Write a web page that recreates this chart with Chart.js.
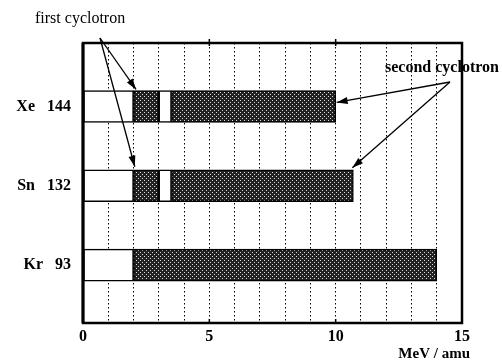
<!DOCTYPE html>
<html>
<head>
<meta charset="utf-8">
<script src="https://cdn.jsdelivr.net/npm/chart.js@4"></script>
<style>
  html, body { margin: 0; padding: 0; background: #fff; }
  #wrap { width: 502px; height: 364px; }
</style>
</head>
<body>
<div id="wrap"><canvas id="grafico" width="502" height="364"></canvas></div>
<script>
// dados (MeV / amu)
const ions = ['Xe   144', 'Sn   132', 'Kr   93'];
const posicoes = [1, 2, 3];
const injecao = [[0, 2], [0, 2], [0, 2]];
const primeiroCiclo = [[2, 3], [2, 3], null];
const intervalo = [[3, 3.5], [3, 3.5], null];
const segundoCiclo = [[3.5, 10], [3.5, 10.7], [2, 14]];
const xTicks = [0, 5, 10, 15];
const tituloX = 'MeV / amu';

// textura pontilhada das barras escuras
function criarTextura() {
    const c = document.createElement('canvas');
    c.width = 4; c.height = 4;
    const g = c.getContext('2d');
    g.fillStyle = '#222';
    g.fillRect(0, 0, 4, 4);
    g.fillStyle = '#ddd';
    g.fillRect(0, 0, 1, 1);
    g.fillRect(2, 2, 1, 1);
    return document.getElementById('grafico').getContext('2d').createPattern(c, 'repeat');
}
const textura = criarTextura();

function serie(valores) {
    return valores.map((v, i) => v ? { x: v, y: posicoes[i] } : null).filter(v => v);
}

function seta(ctx, x1, y1, x2, y2) {
    ctx.beginPath();
    ctx.moveTo(x1, y1);
    ctx.lineTo(x2, y2);
    ctx.stroke();
    const ang = Math.atan2(y2 - y1, x2 - x1);
    const len = 11, w = 3.5;
    ctx.beginPath();
    ctx.moveTo(x2, y2);
    ctx.lineTo(x2 - len * Math.cos(ang) + w * Math.sin(ang), y2 - len * Math.sin(ang) - w * Math.cos(ang));
    ctx.lineTo(x2 - len * Math.cos(ang) - w * Math.sin(ang), y2 - len * Math.sin(ang) + w * Math.cos(ang));
    ctx.closePath();
    ctx.fill();
}

// moldura e anotacoes
const anotacoes = {
    id: 'anotacoes',
    afterDraw(chart) {
        const ctx = chart.ctx;
        const a = chart.chartArea;
        const xs = chart.scales.x, ys = chart.scales.y;
        ctx.save();
        ctx.strokeStyle = '#000';
        ctx.lineWidth = 2.5;
        ctx.strokeRect(a.left, a.top, a.right - a.left, a.bottom - a.top);
        ctx.lineWidth = 3;
        ctx.beginPath();
        ctx.moveTo(a.left, a.top);
        ctx.lineTo(a.left, a.bottom);
        ctx.stroke();

        // marcas maiores em 5 e 10
        ctx.lineWidth = 1.5;
        [5, 10].forEach(v => {
            const px = xs.getPixelForValue(v);
            ctx.beginPath();
            ctx.moveTo(px, a.top - 4);
            ctx.lineTo(px, a.top + 3);
            ctx.moveTo(px, a.bottom - 4);
            ctx.lineTo(px, a.bottom);
            ctx.stroke();
        });

        ctx.fillStyle = '#000';
        ctx.lineWidth = 1.3;
        ctx.textBaseline = 'middle';
        ctx.textAlign = 'left';
        ctx.font = '16px "Liberation Serif"';
        ctx.fillText('first cyclotron', 35, 19);
        seta(ctx, 100, 38, xs.getPixelForValue(2.1), ys.getPixelForValue(1) - 17);
        seta(ctx, 100, 38, xs.getPixelForValue(2.05), ys.getPixelForValue(2) - 19);

        ctx.font = 'bold 16px "Liberation Serif"';
        ctx.fillText('second cyclotron', 385, 68);
        seta(ctx, 450, 82, xs.getPixelForValue(10) + 1, ys.getPixelForValue(1) - 4);
        seta(ctx, 450, 82, xs.getPixelForValue(10.7) - 1, ys.getPixelForValue(2) - 18);

        // titulo do eixo x
        ctx.font = 'bold 15px "Liberation Serif"';
        ctx.textAlign = 'right';
        ctx.fillText(tituloX, a.right + 8, 354);
        ctx.restore();
    }
};

const barra = {
    borderColor: '#000',
    borderWidth: 1.5,
    borderSkipped: false,
    barThickness: 32,
    grouped: false
};

new Chart(document.getElementById('grafico'), {
    type: 'bar',
    data: {
        datasets: [
            Object.assign({ label: 'injection', data: serie(injecao), backgroundColor: '#fff' }, barra),
            Object.assign({ label: 'first cyclotron', data: serie(primeiroCiclo), backgroundColor: textura }, barra),
            Object.assign({ label: 'gap', data: serie(intervalo), backgroundColor: '#fff' }, barra),
            Object.assign({ label: 'second cyclotron', data: serie(segundoCiclo), backgroundColor: textura }, barra)
        ]
    },
    options: {
        indexAxis: 'y',
        responsive: false,
        animation: false,
        layout: { padding: { top: 43, right: 40, left: 0, bottom: 0 } },
        plugins: { legend: { display: false }, tooltip: { enabled: false } },
        scales: {
            x: {
                type: 'linear',
                min: 0,
                max: 15,
                ticks: {
                    stepSize: 1,
                    autoSkip: false,
                    maxRotation: 0,
                    padding: 4,
                    color: '#000',
                    font: { family: '"Liberation Serif"', size: 16, weight: 'bold' },
                    callback: v => xTicks.includes(v) ? String(v) : ''
                },
                grid: {
                    drawTicks: false,
                    color: c => (c.tick && (c.tick.value === 0 || c.tick.value === 15)) ? 'rgba(0,0,0,0)' : '#000',
                    lineWidth: 1
                },
                border: { display: false, dash: [1.5, 2.5] },
                afterFit: s => { s.height = 41; }
            },
            y: {
                type: 'linear',
                reverse: true,
                offset: false,
                min: 0.2,
                max: 3.73,
                afterBuildTicks: s => { s.ticks = posicoes.map(v => ({ value: v })); },
                ticks: {
                    padding: 4,
                    color: '#000',
                    font: { family: '"Liberation Serif"', size: 16, weight: 'bold' },
                    callback: v => ions[posicoes.indexOf(v)] || ''
                },
                grid: { display: false },
                border: { display: false },
                afterFit: s => { s.width = 83; }
            }
        }
    },
    plugins: [anotacoes]
});
</script>
</body>
</html>
